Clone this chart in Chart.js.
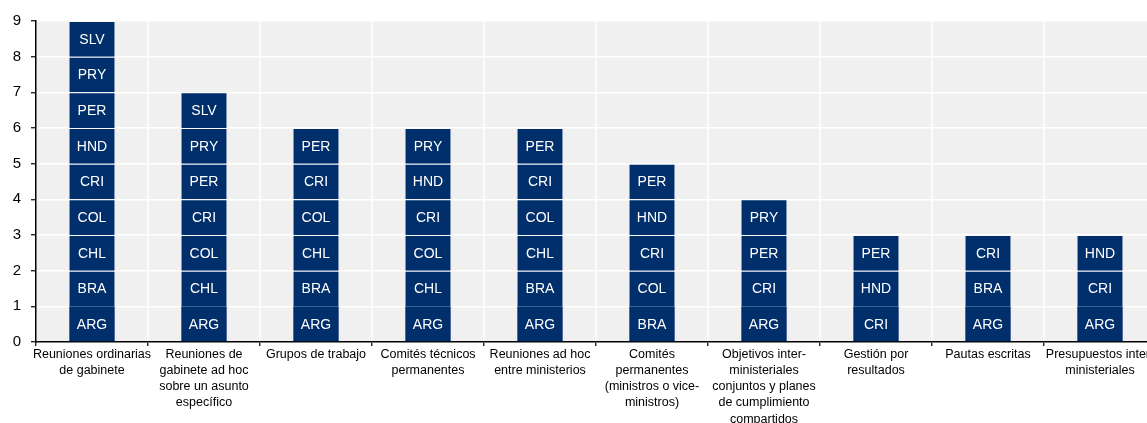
<!DOCTYPE html>
<html>
<head>
<meta charset="utf-8">
<script src="https://cdn.jsdelivr.net/npm/chart.js@4.4.1/dist/chart.umd.min.js"></script>
<style>
  html, body { margin: 0; padding: 0; background: #ffffff; overflow: hidden; }
  #clip { width: 1147px; height: 423px; overflow: hidden; position: relative; }
  #wrap { width: 1156px; height: 423px; position: relative; }
</style>
</head>
<body>
<div id="clip"><div id="wrap"><canvas id="mechChart"></canvas></div></div>
<script>
// categories (multi-line labels as drawn under the axis)
const categories = [
    ['Reuniones ordinarias', 'de gabinete'],
    ['Reuniones de', 'gabinete ad hoc', 'sobre un asunto', 'específico'],
    ['Grupos de trabajo'],
    ['Comités técnicos', 'permanentes'],
    ['Reuniones ad hoc', 'entre ministerios'],
    ['Comités', 'permanentes', '(ministros o vice-', 'ministros)'],
    ['Objetivos inter-', 'ministeriales', 'conjuntos y planes', 'de cumplimiento', 'compartidos'],
    ['Gestión por', 'resultados'],
    ['Pautas escritas'],
    ['Presupuestos inter-', 'ministeriales']
];

// countries per category, bottom to top
const reunionesOrdinarias = ['ARG', 'BRA', 'CHL', 'COL', 'CRI', 'HND', 'PER', 'PRY', 'SLV'];
const reunionesGabineteAdHoc = ['ARG', 'CHL', 'COL', 'CRI', 'PER', 'PRY', 'SLV'];
const gruposTrabajo = ['ARG', 'BRA', 'CHL', 'COL', 'CRI', 'PER'];
const comitesTecnicos = ['ARG', 'CHL', 'COL', 'CRI', 'HND', 'PRY'];
const reunionesAdHocMinisterios = ['ARG', 'BRA', 'CHL', 'COL', 'CRI', 'PER'];
const comitesPermanentes = ['BRA', 'COL', 'CRI', 'HND', 'PER'];
const objetivosInter = ['ARG', 'CRI', 'PER', 'PRY'];
const gestionResultados = ['CRI', 'HND', 'PER'];
const pautasEscritas = ['ARG', 'BRA', 'CRI'];
const presupuestosInter = ['ARG', 'CRI', 'HND'];

const countriesByCategory = [
    reunionesOrdinarias, reunionesGabineteAdHoc, gruposTrabajo, comitesTecnicos,
    reunionesAdHocMinisterios, comitesPermanentes, objetivosInter,
    gestionResultados, pautasEscritas, presupuestosInter
];

const yTicks = [0, 1, 2, 3, 4, 5, 6, 7, 8, 9];

const navy = '#002f6c';
const FONT = '"Liberation Sans", Arial, sans-serif';

// one dataset per stack level, each segment counts one country
const maxLevel = Math.max(...countriesByCategory.map(c => c.length));
const datasets = [];
for (let level = 0; level < maxLevel; level++) {
    datasets.push({
        label: 'Nivel ' + (level + 1),
        data: countriesByCategory.map(c => (c.length > level ? 1 : null)),
        codes: countriesByCategory.map(c => c[level] || ''),
        backgroundColor: navy,
        borderColor: 'rgba(255, 255, 255, 0.12)',
        borderWidth: { top: level > 0 ? 1 : 0 },
        borderSkipped: false,
        barPercentage: 0.405,
        categoryPercentage: 1.0
    });
}

const plotBackground = {
    id: 'plotBackground',
    beforeDraw(chart) {
        const { ctx, chartArea } = chart;
        ctx.save();
        ctx.fillStyle = '#f0f0f0';
        ctx.fillRect(chartArea.left, chartArea.top, chartArea.right - chartArea.left, chartArea.bottom - chartArea.top);
        ctx.restore();
    }
};

const segmentLabels = {
    id: 'segmentLabels',
    afterDatasetsDraw(chart) {
        const { ctx } = chart;
        ctx.save();
        ctx.fillStyle = '#ffffff';
        ctx.font = '14px ' + FONT;
        ctx.textAlign = 'center';
        ctx.textBaseline = 'middle';
        chart.data.datasets.forEach((ds, i) => {
            chart.getDatasetMeta(i).data.forEach((bar, j) => {
                if (ds.data[j] == null) return;
                const mid = (bar.y + bar.base) / 2;
                ctx.fillText(ds.codes[j], bar.x, mid + 1);
            });
        });
        ctx.restore();
    }
};

const mechCtx = document.getElementById('mechChart').getContext('2d');
const mechChart = new Chart(mechCtx, {
    type: 'bar',
    data: {
        labels: categories,
        datasets: datasets
    },
    options: {
        responsive: true,
        maintainAspectRatio: false,
        animation: false,
        layout: { padding: { top: 21, right: 0, left: 0, bottom: 0 } },
        scales: {
            x: {
                stacked: true,
                grid: { color: '#ffffff', lineWidth: 1.5, offset: true, tickColor: '#000000', tickLength: 4, tickWidth: 1.2 },
                border: { color: '#000000', width: 1.5 },
                ticks: {
                    color: '#000000',
                    font: { family: FONT, size: 12.5, lineHeight: 1.3 },
                    padding: 0,
                    maxRotation: 0,
                    minRotation: 0,
                    autoSkip: false
                },
                afterFit(scale) {
                    scale.height = 81;
                    scale.paddingLeft = 0;
                    scale.paddingRight = 0;
                }
            },
            y: {
                stacked: true,
                min: 0,
                max: 9,
                afterBuildTicks(scale) {
                    scale.ticks = yTicks.map(v => ({ value: v }));
                },
                grid: { color: '#ffffff', lineWidth: 1.5, tickColor: '#000000', tickLength: 5, tickWidth: 1.2 },
                border: { color: '#000000', width: 1.5 },
                ticks: {
                    color: '#000000',
                    font: { family: FONT, size: 15 },
                    padding: 10
                },
                afterFit(scale) {
                    scale.width = 36;
                }
            }
        },
        plugins: {
            legend: { display: false },
            tooltip: { enabled: false }
        }
    },
    plugins: [plotBackground, segmentLabels]
});
</script>
</body>
</html>
